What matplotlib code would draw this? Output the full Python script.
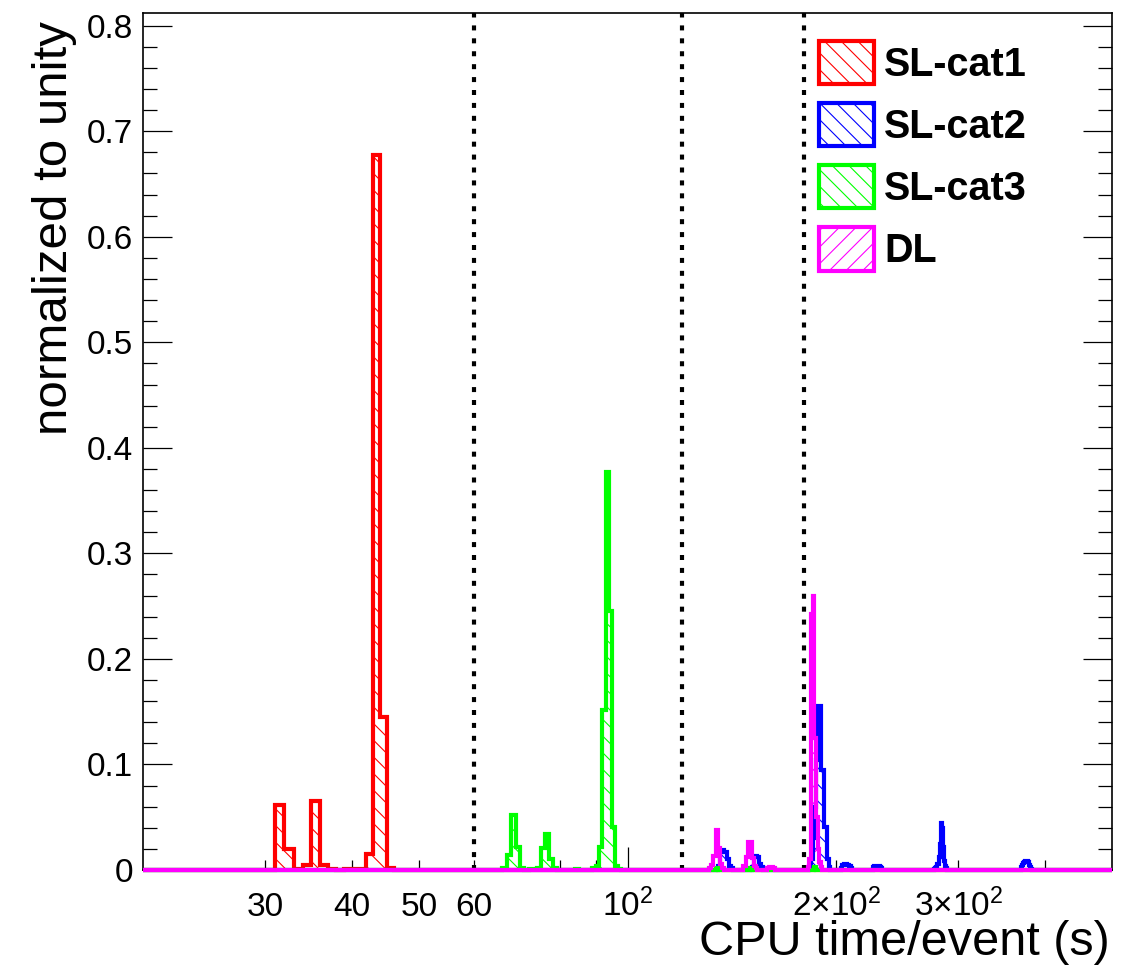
import numpy as np
import matplotlib
matplotlib.use("Agg")
import matplotlib.pyplot as plt
from matplotlib import ticker
from matplotlib.patches import Patch

plt.rcParams["font.family"] = ["Liberation Sans", "DejaVu Sans"]
plt.rcParams["mathtext.fontset"] = "custom"
plt.rcParams["mathtext.rm"] = "Liberation Sans"
plt.rcParams["hatch.linewidth"] = 0.8

# CPU time per event, 1 s bins from 20 s to 500 s
t_min, t_max = 20, 500

# filled bins: lower bin edge (s) and fraction of events
cat1_t = [31, 32, 33, 34, 35, 36, 37, 39, 40, 41, 42, 43, 44, 45]
cat1_v = [0.062, 0.020, 0.001, 0.005, 0.065, 0.005, 0.001, 0.001, 0.001, 0.001,
          0.015, 0.677, 0.145, 0.002]

cat2_t = [135, 136, 137, 138, 139, 140, 141,
          151, 152, 153, 154, 155, 156,
          183, 184, 185, 186, 187, 188, 189, 190, 191, 192, 193, 194, 195,
          203, 204, 205, 206, 207, 208, 209, 210,
          226, 227, 228, 229, 230, 231, 232,
          277, 278, 279, 280, 281, 282, 283, 284, 285, 286, 287, 288,
          369, 370, 371, 372, 373, 374, 375, 376, 377, 378, 379, 380, 381, 382]
cat2_v = [0.004, 0.017, 0.019, 0.017, 0.010, 0.004, 0.002,
          0.003, 0.012, 0.013, 0.012, 0.006, 0.003,
          0.003, 0.010, 0.030, 0.060, 0.104, 0.155, 0.155, 0.095, 0.095, 0.041, 0.041, 0.010, 0.003,
          0.002, 0.005, 0.006, 0.006, 0.005, 0.005, 0.004, 0.002,
          0.003, 0.004, 0.004, 0.004, 0.004, 0.003, 0.002,
          0.001, 0.002, 0.003, 0.006, 0.012, 0.025, 0.045, 0.040, 0.022, 0.009, 0.004, 0.002,
          0.001, 0.003, 0.005, 0.007, 0.008, 0.009, 0.009, 0.009, 0.009, 0.008, 0.007, 0.005,
          0.003, 0.001]

cat3_t = [66, 67, 68, 69, 70, 72, 73, 74, 75, 76, 77, 78, 84,
          89, 90, 91, 92, 93, 94, 95, 96, 97, 134, 150, 186]
cat3_v = [0.002, 0.014, 0.052, 0.022, 0.002, 0.001, 0.001, 0.002, 0.021, 0.034, 0.010,
          0.002, 0.001, 0.002, 0.004, 0.022, 0.152, 0.377, 0.245, 0.041, 0.004, 0.001,
          0.002, 0.002, 0.003]

dl_t = [131, 132, 133, 134, 135, 136, 137,
        147, 148, 149, 150, 151, 152, 153,
        159, 160, 161, 162,
        182, 183, 184, 185, 186, 187, 188, 189, 190]
dl_v = [0.002, 0.005, 0.013, 0.038, 0.021, 0.006, 0.002,
        0.004, 0.012, 0.027, 0.027, 0.011, 0.004, 0.002,
        0.002, 0.003, 0.003, 0.002,
        0.003, 0.010, 0.243, 0.260, 0.125, 0.050, 0.020, 0.008, 0.003]

labels = ["SL-cat1", "SL-cat2", "SL-cat3", "DL"]
colors = ["#ff0000", "#0000ff", "#00ff00", "#ff00ff"]
hatches = ["\\\\", "\\\\", "\\\\", "//"]

# category boundaries in CPU time (s)
cuts = [60, 120, 180]

edges = np.arange(t_min, t_max + 1, 1.0)


def fill_hist(bins, vals):
    h = np.zeros(len(edges) - 1)
    h[np.asarray(bins) - t_min] = vals
    return h


hists = [fill_hist(cat1_t, cat1_v), fill_hist(cat2_t, cat2_v),
         fill_hist(cat3_t, cat3_v), fill_hist(dl_t, dl_v)]

fig = plt.figure(figsize=(11.38, 9.68), dpi=100)
ax = fig.add_axes([143 / 1138, 98 / 968, 969 / 1138, 857 / 968])

for c in cuts:
    ax.axvline(c, color="black", lw=3, linestyle=(0, (1.2, 1.9)), zorder=1)

for h, col, hat in zip(hists, colors, hatches):
    ax.stairs(h, edges, fill=True, facecolor="none", edgecolor=col,
              hatch=hat, linewidth=0, zorder=2)
    ax.stairs(h, edges, color=col, linewidth=3, joinstyle="miter",
              clip_on=False, zorder=3)

ax.set_xscale("log")
ax.set_xlim(t_min, t_max)
ax.set_ylim(0, 0.812)

ax.xaxis.set_major_locator(ticker.FixedLocator([30, 40, 50, 60, 100, 200, 300]))
ax.xaxis.set_major_formatter(ticker.FixedFormatter(
    ["30", "40", "50", "60", r"$\mathregular{10^{2}}$",
     r"$\mathregular{2{\times}10^{2}}$", r"$\mathregular{3{\times}10^{2}}$"]))
ax.xaxis.set_minor_locator(ticker.FixedLocator([70, 80, 90, 400]))
ax.xaxis.set_minor_formatter(ticker.NullFormatter())

ax.yaxis.set_major_locator(ticker.MultipleLocator(0.1))
ax.yaxis.set_minor_locator(ticker.MultipleLocator(0.02))
ax.yaxis.set_major_formatter(ticker.FormatStrFormatter("%g"))

ax.tick_params(axis="both", which="both", direction="in", top=False,
               right=True, width=0.9, labelsize=24)
ax.tick_params(axis="y", which="major", length=21, pad=7)
ax.tick_params(axis="y", which="minor", length=10)
ax.tick_params(axis="x", which="both", length=7, pad=33)
ax.xaxis.get_major_ticks()[4].tick1line.set_markersize(16.5)
plt.setp(ax.get_xticklabels(), va="baseline")

for s in ax.spines.values():
    s.set_linewidth(1.2)

ax.set_xlabel("CPU time/event (s)", fontsize=35, loc="right")
ax.xaxis.set_label_coords(0.998, -0.058)
ax.set_ylabel("normalized to unity", fontsize=35.5, loc="top")
ax.yaxis.set_label_coords(-0.068, 0.99)

handles = [Patch(facecolor="none", edgecolor=col, hatch=hat, linewidth=3)
           for col, hat in zip(colors, hatches)]
ax.legend(handles, labels, loc="upper left",
          bbox_to_anchor=(819 / 1138, 1 - 41 / 968),
          bbox_transform=fig.transFigure, frameon=False,
          prop={"size": 28.5, "weight": "bold"},
          handlelength=1.39, handleheight=1.3, labelspacing=0.48,
          handletextpad=0.25, borderpad=0, borderaxespad=0)

fig.savefig("out.png", dpi=100)
